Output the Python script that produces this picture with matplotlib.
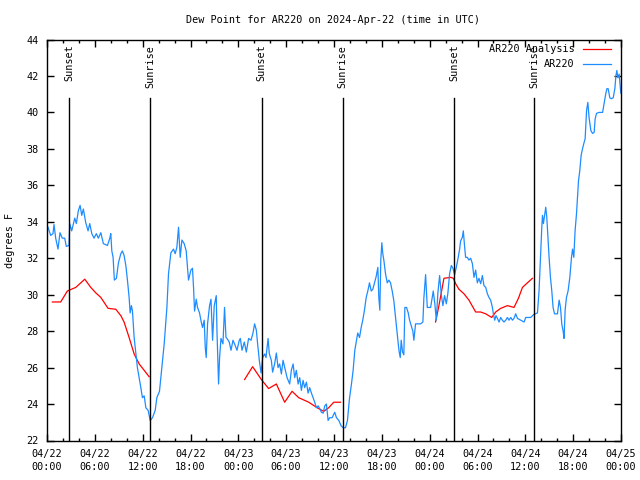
import matplotlib
matplotlib.use("Agg")
import matplotlib.pyplot as plt
import matplotlib.dates as mdates
import numpy as np
import pandas as pd

# hours after 2024-04-22 00:00 UTC, and dew point (F)
obs_hours = [
    0.13, 0.46, 0.75, 0.88, 1.09, 1.38, 1.63, 1.92, 2.22, 2.42, 2.76, 2.85, 3.10, 3.48, 3.68,
    3.93, 4.15, 4.36, 4.56, 4.86, 5.15, 5.36, 5.62, 5.90, 6.19, 6.44, 6.75, 7.07, 7.58, 7.88,
    8.00, 8.13, 8.29, 8.45, 8.71, 8.96, 9.26, 9.46, 9.67, 9.89, 10.09, 10.30, 10.43, 10.59,
    10.72, 10.93, 11.14, 11.34, 11.56, 11.77, 11.97, 12.19, 12.40, 12.69, 12.94, 13.23, 13.57,
    13.78, 14.11, 14.41, 14.70, 15.04, 15.24, 15.54, 15.87, 16.08, 16.29, 16.50, 16.71, 16.92,
    17.21, 17.46, 17.75, 18.05, 18.25, 18.38, 18.51, 18.72, 18.88, 19.13, 19.35, 19.51, 19.72,
    19.85, 19.97, 20.14, 20.39, 20.57, 20.77, 20.98, 21.23, 21.32, 21.52, 21.65, 21.82, 22.07,
    22.27, 22.45, 22.58, 22.86, 23.08, 23.33, 23.62, 23.83, 24.12, 24.25, 24.46, 24.75, 25.00,
    25.29, 25.59, 25.84, 26.04, 26.26, 26.42, 26.63, 26.85, 27.05, 27.30, 27.47, 27.73, 27.89,
    28.14, 28.30, 28.55, 28.77, 28.98, 29.18, 29.40, 29.61, 29.90, 30.11, 30.44, 30.65, 30.87,
    31.07, 31.28, 31.50, 31.70, 31.91, 32.12, 32.32, 32.54, 32.75, 32.95, 33.17, 33.38, 33.58,
    33.79, 34.01, 34.21, 34.42, 34.64, 34.84, 35.05, 35.26, 35.46, 35.77, 36.09, 36.31, 36.60,
    36.90, 37.15, 37.44, 37.69, 37.94, 38.19, 38.40, 38.61, 38.78, 38.98, 39.20, 39.41, 39.61,
    39.82, 40.04, 40.24, 40.45, 40.67, 40.87, 41.08, 41.29, 41.50, 41.62, 41.75, 41.87, 42.00,
    42.12, 42.25, 42.46, 42.68, 42.88, 43.09, 43.30, 43.51, 43.72, 43.93, 44.06, 44.18, 44.31,
    44.43, 44.60, 44.76, 44.89, 45.10, 45.31, 45.48, 45.69, 45.89, 46.02, 46.23, 46.86, 47.15,
    47.27, 47.49, 47.70, 48.12, 48.45, 48.66, 48.83, 49.03, 49.25, 49.46, 49.66, 49.87, 50.09,
    50.29, 50.50, 50.72, 50.92, 51.13, 51.34, 51.54, 51.76, 51.88, 52.10, 52.22, 52.39, 52.51,
    52.72, 52.93, 53.14, 53.36, 53.56, 53.77, 53.98, 54.18, 54.40, 54.61, 54.81, 55.03, 55.24,
    55.44, 55.65, 55.87, 55.99, 56.16, 56.32, 56.50, 56.70, 56.91, 57.12, 57.32, 57.54, 57.75,
    57.95, 58.17, 58.38, 58.58, 58.79, 59.01, 59.42, 59.84, 60.05, 60.68, 61.02, 61.52, 61.72,
    61.90, 62.06, 62.15, 62.27, 62.44, 62.56, 62.69, 62.81, 62.98, 63.15, 63.32, 63.48, 63.66,
    64.03, 64.24, 64.41, 64.57, 64.74, 64.86, 64.99, 65.16, 65.36, 65.58, 65.79, 65.92, 66.08,
    66.24, 66.42, 66.55, 66.67, 66.83, 67.00, 67.17, 67.34, 67.50, 67.68, 67.84, 68.00, 68.22,
    68.43, 68.63, 68.76, 68.93, 69.26, 69.69, 69.89, 70.10, 70.23, 70.39, 70.60, 70.77, 71.02,
    71.23, 71.36, 71.48, 71.61, 71.77, 71.98,
]
obs_dewpt = [
    33.7, 33.25, 33.35, 33.85, 33.1, 32.5, 33.4, 33.1, 33.1, 32.65, 32.7, 33.9, 33.5, 34.2, 33.9,
    34.6, 34.9, 34.35, 34.7, 33.95, 33.5, 33.9, 33.35, 33.1, 33.35, 33.1, 33.4, 32.8, 32.7, 33.1,
    33.35, 32.4, 32.05, 30.8, 30.9, 31.75, 32.25, 32.4, 32.15, 31.6, 30.8, 29.85, 29.0, 29.4,
    29.1, 27.65, 26.8, 26.0, 25.45, 24.9, 24.35, 24.45, 23.8, 23.65, 23.1, 23.25, 23.65,
    24.35, 24.7, 26.0, 27.3, 29.3, 31.15, 32.3, 32.5, 32.25, 32.6, 33.7, 32.05, 33.0,
    32.8, 32.4, 30.8, 31.35, 31.45, 30.4, 29.1, 29.75, 29.3, 29.0, 28.5, 28.2, 28.6,
    27.1, 26.55, 28.4, 29.4, 29.75, 27.5, 29.4, 29.95, 28.0, 25.1, 26.55, 27.6, 27.3,
    29.3, 27.65, 27.6, 27.4, 26.95, 27.5, 27.2, 26.95, 27.5, 27.6, 26.95, 27.4, 26.85,
    27.6, 27.5, 27.9, 28.4, 28.05, 27.3, 26.4, 25.7, 26.55, 26.75, 26.55, 27.6, 26.75,
    26.4, 25.75, 26.2, 26.8, 26.0, 26.2, 25.65, 26.4, 25.85, 25.45, 25.1, 25.85, 26.2,
    25.45, 25.85, 25.1, 25.45, 24.75, 25.3, 24.9, 25.2, 24.6, 24.9, 24.6, 24.35, 24.1,
    23.8, 23.9, 23.75, 23.55, 23.5, 23.9, 24.0, 23.1, 23.25, 23.25, 23.55, 23.25, 23.1,
    22.8, 22.7, 22.7, 23.1, 24.3, 25.1, 25.85, 26.95, 27.4, 27.9, 27.65, 28.2, 28.6,
    29.15, 29.85, 30.2, 30.65, 30.2, 30.3, 30.65, 31.0, 31.5, 29.85, 29.15, 31.9, 32.85,
    32.25, 31.9, 31.15, 30.65, 30.8, 30.65, 30.2, 29.65, 28.75, 27.9, 27.3, 26.85, 26.55,
    27.5, 26.85, 26.7, 29.3, 29.3, 29.0, 28.6, 28.3, 28.0, 27.5, 28.4, 28.4, 28.5,
    29.8, 31.1, 29.3, 29.3, 30.2, 29.45, 28.6, 30.1, 31.05, 30.0, 29.4, 29.95, 29.5,
    30.1, 31.15, 31.6, 31.45, 31.1, 31.5, 31.95, 32.5, 32.95, 33.15, 33.5, 32.6, 32.05,
    32.05, 31.9, 32.0, 31.7, 30.95, 31.35, 30.65, 30.9, 30.6, 31.05, 30.5, 30.4, 30.05,
    29.85, 29.7, 29.3, 28.95, 28.6, 28.85, 28.7, 28.5, 28.75, 28.6, 28.5, 28.6, 28.75,
    28.6, 28.75, 28.6, 28.7, 28.95, 28.7, 28.6, 28.5, 28.75, 28.75, 28.9, 29.0, 30.2,
    32.05, 33.65, 34.35, 33.9, 34.45, 34.8, 34.25, 33.35, 32.05, 30.95, 30.2, 29.3, 28.95,
    28.95, 29.7, 29.3, 28.4, 28.0, 27.6, 29.15, 29.85, 30.2, 30.95, 32.05, 32.5, 32.05,
    33.5, 34.45, 35.35, 36.25, 36.8, 37.65, 38.0, 38.3, 38.55, 40.1, 40.55, 39.7, 39.0,
    38.85, 38.9, 39.65, 39.95, 40.0, 40.0, 40.5, 41.05, 41.3, 41.3, 40.8, 40.75, 40.8,
    41.3, 42.0, 42.3, 41.9, 42.1, 41.05,
]

# analysis series, three separate pieces
ana_hours_1 = [0.67, 1.72, 2.55, 3.61, 4.74, 5.49, 6.12, 6.75, 7.66, 8.63, 9.26, 9.67, 10.30,
               10.93, 11.56, 12.19, 12.81]
ana_dewpt_1 = [29.6, 29.6, 30.2, 30.4, 30.85, 30.4, 30.1, 29.85, 29.25, 29.2, 28.85, 28.5, 27.65,
               26.75, 26.2, 25.85, 25.5]
ana_hours_2 = [24.79, 25.79, 26.88, 27.80, 28.77, 29.81, 30.74, 31.57, 32.83, 33.88, 34.71,
               35.34, 35.97, 36.81]
ana_dewpt_2 = [25.35, 26.05, 25.35, 24.85, 25.1, 24.1, 24.7, 24.35, 24.1, 23.8, 23.6,
               23.8, 24.1, 24.1]
ana_hours_3 = [48.74, 49.16, 49.79, 50.63, 50.97, 51.26, 51.67, 52.30, 52.93, 53.77, 54.40,
               55.03, 55.78, 56.28, 56.91, 57.75, 58.58, 59.13, 59.64, 60.26, 60.89]
ana_dewpt_3 = [28.5, 29.4, 30.9, 30.95, 30.9, 30.6, 30.3, 30.05, 29.7, 29.05, 29.05,
               28.95, 28.75, 29.05, 29.25, 29.4, 29.3, 29.8, 30.4, 30.65, 30.9]

sun_hours = [2.80, 12.94, 26.92, 37.10, 51.04, 61.09]
sun_labels = ["Sunset", "Sunrise", "Sunset", "Sunrise", "Sunset", "Sunrise"]

base = pd.Timestamp("2024-04-22 00:00")


def to_time(hours):
    return base + pd.to_timedelta(np.asarray(hours), unit="h")


mono = "DejaVu Sans Mono"
fs = 7.3
plt.rcParams["font.family"] = mono
plt.rcParams["font.size"] = fs

fig = plt.figure(figsize=(6.4, 4.8), dpi=100)
ax = fig.add_axes([47 / 640, 1 - 440.5 / 480, 574 / 640, 401 / 480])

red = "#ff0000"
blue = "#1e8cff"
for h, v in [(ana_hours_1, ana_dewpt_1), (ana_hours_2, ana_dewpt_2), (ana_hours_3, ana_dewpt_3)]:
    ax.plot(to_time(h), v, color=red, lw=0.9)
ax.plot(to_time(obs_hours), obs_dewpt, color=blue, lw=0.9)

# sunrise / sunset markers
for h, lab in zip(sun_hours, sun_labels):
    t = to_time([h])[0]
    ax.axvline(t, ymin=0, ymax=0.853, color="black", lw=1.0)
    ax.text(t, 0.987, lab, rotation=90, ha="center", va="top",
            transform=ax.get_xaxis_transform(), fontsize=fs)

ax.set_xlim(base, base + pd.Timedelta(hours=72))
ax.set_ylim(22, 44)
ax.set_yticks(np.arange(22, 45, 2))
ax.xaxis.set_major_locator(mdates.HourLocator(byhour=[0, 6, 12, 18]))
ax.xaxis.set_minor_locator(mdates.HourLocator(interval=2))
ax.xaxis.set_major_formatter(mdates.DateFormatter("%m/%d\n%H:%M"))
ax.tick_params(which="both", direction="in", top=True, right=True, labelsize=fs, width=1)
ax.tick_params(which="major", length=5, pad=6)
ax.tick_params(which="minor", length=2.5)
for s in ax.spines.values():
    s.set_linewidth(1.0)

# gnuplot-style key: right aligned text, then the line sample
key = [("AR220 Analysis", red), ("AR220", blue)]
for i, (lab, col) in enumerate(key):
    yk = 0.977 - i * 0.037
    ax.text(0.919, yk, lab, ha="right", va="center", transform=ax.transAxes, fontsize=fs)
    ax.plot([0.934, 0.983], [yk, yk], color=col, lw=0.9, transform=ax.transAxes)

fig.text(0.52, 0.958, "Dew Point for AR220 on 2024-Apr-22 (time in UTC)",
         ha="center", va="center", fontsize=fs)
fig.text(0.016, 0.5, "degrees F", rotation=90, ha="center", va="center", fontsize=fs)

fig.canvas.draw()
for lbl in ax.get_xticklabels():
    lbl.set_linespacing(1.45)

fig.savefig("out.png", dpi=100)
